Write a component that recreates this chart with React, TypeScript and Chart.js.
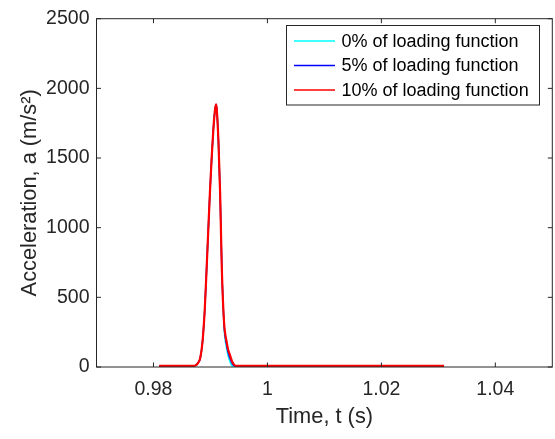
import React, { useEffect, useRef } from "react";
import { Chart, registerables } from "chart.js";

Chart.register(...registerables);

// ---- data ----
const timeS = [
  0.981, 0.987, 0.9874, 0.9878, 0.9882, 0.9886, 0.989, 0.9893, 0.9896, 0.9899,
  0.9902, 0.9905, 0.9908, 0.99097, 0.9911, 0.9914, 0.9917, 0.99185, 0.992,
  0.9922, 0.99243, 0.9927, 0.99285, 0.9931, 0.99343, 0.9937, 0.9939, 0.9942,
  0.9945, 1.031,
];
const accel0 = [
  8, 8, 12, 28, 63, 178, 413, 680, 965, 1246, 1490, 1700, 1845, 1885, 1855,
  1622, 1246, 965, 700, 470, 255, 165, 130, 80, 38, 12, 8, 8, 8, 8,
];
const accel5 = [
  8, 8, 12, 28, 63, 178, 413, 680, 965, 1246, 1490, 1700, 1845, 1885, 1855,
  1622, 1246, 965, 700, 470, 280, 190, 155, 105, 62, 35, 20, 9, 8, 8,
];
const accel10 = [
  8, 8, 12, 28, 63, 178, 413, 680, 965, 1246, 1490, 1700, 1845, 1885, 1855,
  1622, 1246, 965, 700, 470, 296, 210, 178, 125, 85, 52, 32, 14, 8, 8,
];
const seriesLabels = [
  "0% of loading function",
  "5% of loading function",
  "10% of loading function",
];
const seriesColors = ["#00FFFF", "#0000FF", "#FF0000"];
const seriesWidths = [1.5, 1.5, 2.2];
const xTickValues = [0.98, 1, 1.02, 1.04];
const xTickLabels = ["0.98", "1", "1.02", "1.04"];
const yTickValues = [0, 500, 1000, 1500, 2000, 2500];

const FONT = "'Liberation Sans', Arial, Helvetica, sans-serif";
const AXIS_COLOR = "#262626";

const boxPlugin = {
  id: "matlabBox",
  afterDraw(chart: any) {
    const { ctx, chartArea, scales } = chart;
    const { left, right, top, bottom } = chartArea;
    const TL = 4.5;
    ctx.save();
    ctx.strokeStyle = AXIS_COLOR;
    ctx.lineWidth = 1;
    ctx.strokeRect(left, top, right - left, bottom - top);
    ctx.beginPath();
    for (const v of xTickValues) {
      const px = scales.x.getPixelForValue(v);
      ctx.moveTo(px, bottom);
      ctx.lineTo(px, bottom - TL);
      ctx.moveTo(px, top);
      ctx.lineTo(px, top + TL);
    }
    for (const v of yTickValues) {
      const py = scales.y.getPixelForValue(v);
      ctx.moveTo(left, py);
      ctx.lineTo(left + TL, py);
      ctx.moveTo(right, py);
      ctx.lineTo(right - TL, py);
    }
    ctx.stroke();

    // legend
    const bx = 286.5, by = 25.5, bw = 253, bh = 79.5;
    ctx.fillStyle = "#ffffff";
    ctx.fillRect(bx, by, bw, bh);
    ctx.strokeStyle = AXIS_COLOR;
    ctx.lineWidth = 1;
    ctx.strokeRect(bx, by, bw, bh);
    const ds = chart.data.datasets;
    const rowY = [41, 65.5, 90];
    ctx.font = `18px ${FONT}`;
    ctx.textBaseline = "middle";
    ctx.textAlign = "left";
    for (let i = 0; i < ds.length; i++) {
      ctx.strokeStyle = ds[i].borderColor;
      ctx.lineWidth = 1.5;
      ctx.beginPath();
      ctx.moveTo(294, rowY[i]);
      ctx.lineTo(335, rowY[i]);
      ctx.stroke();
      ctx.fillStyle = "#000000";
      ctx.fillText(ds[i].label, 341.5, rowY[i] + 1);
    }
    ctx.restore();
  },
};

export default function App() {
  const ref = useRef<HTMLCanvasElement | null>(null);
  useEffect(() => {
    document.body.style.margin = "0";
    const canvas = ref.current!;
    const series = [accel0, accel5, accel10];
    const chart = new Chart(canvas, {
      type: "line",
      data: {
        datasets: series.map((vals, i) => ({
          label: seriesLabels[i],
          data: timeS.map((t, j) => ({ x: t, y: vals[j] })),
          borderColor: seriesColors[i],
          backgroundColor: seriesColors[i],
          borderWidth: seriesWidths[i],
          pointRadius: 0,
          fill: false,
          cubicInterpolationMode: "monotone" as const,
          order: 3 - i,
        })),
      },
      options: {
        responsive: false,
        animation: false,
        devicePixelRatio: 1,
        layout: { padding: { left: 0, top: 12, right: 2.7, bottom: 0 } },
        plugins: {
          legend: { display: false },
          tooltip: { enabled: false },
        },
        scales: {
          x: {
            type: "linear",
            min: 0.97,
            max: 1.05,
            afterBuildTicks: (s: any) => {
              s.ticks = xTickValues.map((v) => ({ value: v }));
            },
            afterFit: (s: any) => {
              s.height = 72;
            },
            grid: { display: false, drawTicks: false },
            border: { display: false },
            ticks: {
              padding: 11,
              color: AXIS_COLOR,
              font: { family: FONT, size: 19.5 },
              callback: (v: any) => {
                const k = xTickValues.findIndex((t) => Math.abs(t - v) < 1e-9);
                return k >= 0 ? xTickLabels[k] : "";
              },
              maxRotation: 0,
              autoSkip: false,
            },
            title: {
              display: true,
              text: "Time, t (s)",
              color: AXIS_COLOR,
              font: { family: FONT, size: 21.8 },
              padding: { top: 0, bottom: 9 },
            },
          },
          y: {
            min: 0,
            max: 2500,
            afterBuildTicks: (s: any) => {
              s.ticks = yTickValues.map((v) => ({ value: v }));
            },
            afterFit: (s: any) => {
              s.width = 96.5;
            },
            grid: { display: false, drawTicks: false },
            border: { display: false },
            ticks: {
              padding: 7,
              color: AXIS_COLOR,
              font: { family: FONT, size: 19.5 },
              callback: (v: any) => String(v),
            },
            title: {
              display: true,
              text: "Acceleration, a (m/s²)",
              color: AXIS_COLOR,
              font: { family: FONT, size: 21.8 },
              padding: { top: 17, bottom: 0 },
            },
          },
        },
      },
      plugins: [boxPlugin],
    });
    return () => chart.destroy();
  }, []);
  return (
    <div style={{ width: 555, height: 439, background: "#fff" }}>
      <canvas ref={ref} width={555} height={439} style={{ display: "block" }} />
    </div>
  );
}
